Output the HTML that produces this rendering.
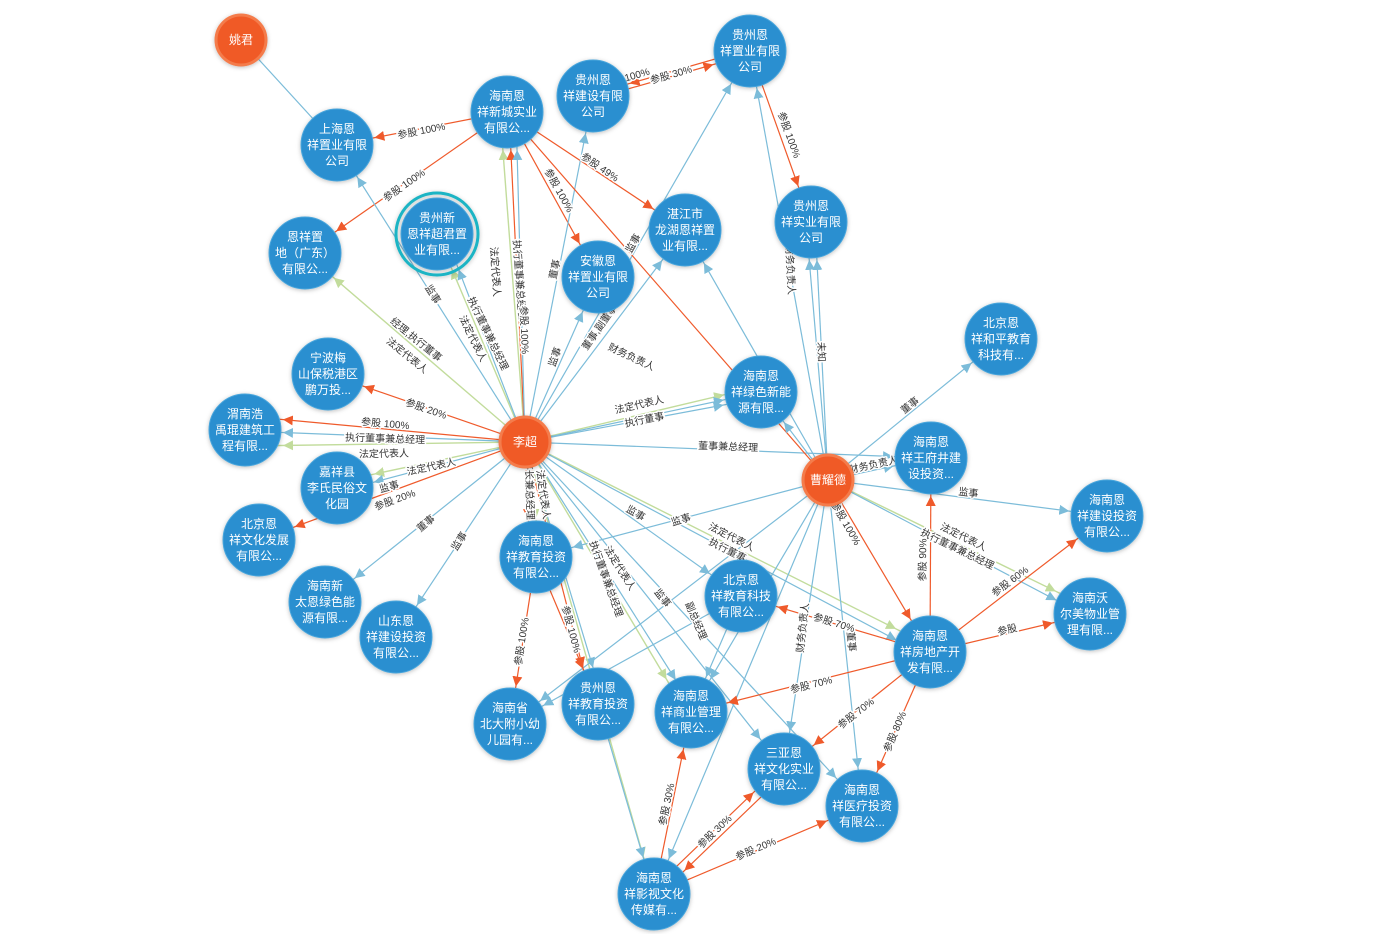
<!DOCTYPE html>
<html><head><meta charset="utf-8"><style>
html,body{margin:0;padding:0;background:#fff}
svg{display:block}
.n text{font-family:"Liberation Sans","Noto Sans CJK SC",sans-serif;font-size:12px;fill:#fff;text-anchor:middle}
.l{font-family:"Liberation Sans","Noto Sans CJK SC",sans-serif;font-size:10px;fill:#333;stroke:#fff;stroke-width:3px;paint-order:stroke;stroke-linejoin:round}
.b{stroke:#7cbcd9;stroke-width:1.2;fill:none}
.r{stroke:#ef5a2b;stroke-width:1.2;fill:none}
.g{stroke:#c2dc9c;stroke-width:1.4;fill:none}
.bn{fill:#2a8fd0;stroke:#4aa6dc;stroke-width:1}
.on{fill:#f05a28;stroke:#f47c4c;stroke-width:3}
</style></head><body>
<svg width="1380" height="934" viewBox="0 0 1380 934" xmlns="http://www.w3.org/2000/svg">
<defs>
<filter id="sh" x="-30%" y="-30%" width="160%" height="160%"><feDropShadow dx="0" dy="1" stdDeviation="2" flood-color="#000" flood-opacity="0.25"/></filter>
<marker id="mb" markerUnits="userSpaceOnUse" markerWidth="60" markerHeight="12" viewBox="0 0 60 12" refX="48" refY="6" orient="auto"><path d="M0,1 L10,6 L0,11 z" fill="#7cbcd9"/></marker>
<marker id="mbs" markerUnits="userSpaceOnUse" markerWidth="60" markerHeight="12" viewBox="0 0 60 12" refX="37" refY="6" orient="auto"><path d="M0,1 L10,6 L0,11 z" fill="#7cbcd9"/></marker>
<marker id="mr" markerUnits="userSpaceOnUse" markerWidth="60" markerHeight="12" viewBox="0 0 60 12" refX="48" refY="6" orient="auto"><path d="M0,1 L10,6 L0,11 z" fill="#ef5a2b"/></marker>
<marker id="mg" markerUnits="userSpaceOnUse" markerWidth="60" markerHeight="12" viewBox="0 0 60 12" refX="48" refY="6" orient="auto"><path d="M0,1 L10,6 L0,11 z" fill="#c2dc9c"/></marker>
</defs>

<!-- edges -->
<g>
<line class="b" x1="241" y1="40" x2="337" y2="145"/>
<!-- 海南新城 -->
<line class="r" x1="507" y1="112" x2="337" y2="145" marker-end="url(#mr)"/>
<line class="r" x1="507" y1="112" x2="305" y2="253" marker-end="url(#mr)"/>
<line class="r" x1="750" y1="49" x2="593" y2="94" marker-end="url(#mr)"/>
<line class="r" x1="593" y1="99" x2="750" y2="54" marker-end="url(#mr)"/>
<line class="r" x1="750" y1="51" x2="811" y2="222" marker-end="url(#mr)"/>
<line class="r" x1="507" y1="112" x2="685" y2="230" marker-end="url(#mr)"/>
<line class="r" x1="507" y1="112" x2="598" y2="277" marker-end="url(#mr)"/>
<!-- 李超 -->
<line class="g" x1="525" y1="442" x2="500" y2="112" marker-end="url(#mg)"/>
<line class="r" x1="525" y1="442" x2="509" y2="112" marker-end="url(#mr)"/>
<line class="b" x1="525" y1="442" x2="516" y2="112" marker-end="url(#mb)"/>
<line class="b" x1="525" y1="442" x2="337" y2="145" marker-end="url(#mb)"/>
<line class="g" x1="525" y1="442" x2="305" y2="253" marker-end="url(#mg)"/>
<line class="g" x1="525" y1="442" x2="437" y2="234" marker-end="url(#mg)"/>
<line class="b" x1="525" y1="442" x2="445" y2="234" marker-end="url(#mb)"/>
<line class="r" x1="525" y1="442" x2="328" y2="374" marker-end="url(#mr)"/>
<line class="r" x1="525" y1="442" x2="245" y2="416" marker-end="url(#mr)"/>
<line class="b" x1="525" y1="442" x2="245" y2="431" marker-end="url(#mb)"/>
<line class="g" x1="525" y1="442" x2="245" y2="446" marker-end="url(#mg)"/>
<line class="g" x1="525" y1="442" x2="337" y2="482" marker-end="url(#mg)"/>
<line class="b" x1="525" y1="442" x2="337" y2="492" marker-end="url(#mb)"/>
<line class="r" x1="525" y1="442" x2="259" y2="540" marker-end="url(#mr)"/>
<line class="b" x1="525" y1="442" x2="325" y2="602" marker-end="url(#mb)"/>
<line class="b" x1="525" y1="442" x2="396" y2="637" marker-end="url(#mb)"/>
<line class="b" x1="525" y1="442" x2="593" y2="96" marker-end="url(#mb)"/>
<line class="b" x1="525" y1="442" x2="598" y2="277" marker-end="url(#mb)"/>
<line class="b" x1="525" y1="442" x2="750" y2="51" marker-end="url(#mb)"/>
<line class="b" x1="525" y1="442" x2="685" y2="230" marker-end="url(#mb)"/>
<line class="g" x1="525" y1="442" x2="761" y2="386" marker-end="url(#mg)"/>
<line class="b" x1="525" y1="442" x2="761" y2="398" marker-end="url(#mb)"/>
<line class="b" x1="525" y1="442" x2="931" y2="458" marker-end="url(#mb)"/>
<line class="r" x1="525" y1="442" x2="530" y2="557" marker-end="url(#mr)"/>
<line class="g" x1="525" y1="442" x2="541" y2="557" marker-end="url(#mg)"/>
<line class="r" x1="525" y1="442" x2="592" y2="704" marker-end="url(#mr)"/>
<line class="b" x1="525" y1="442" x2="604" y2="704" marker-end="url(#mb)"/>
<line class="g" x1="525" y1="442" x2="686" y2="712" marker-end="url(#mg)"/>
<line class="b" x1="525" y1="442" x2="696" y2="712" marker-end="url(#mb)"/>
<line class="b" x1="525" y1="442" x2="741" y2="596" marker-end="url(#mb)"/>
<line class="b" x1="525" y1="442" x2="784" y2="769" marker-end="url(#mb)"/>
<line class="b" x1="525" y1="442" x2="862" y2="806" marker-end="url(#mb)"/>
<line class="g" x1="525" y1="442" x2="930" y2="646" marker-end="url(#mg)"/>
<line class="b" x1="525" y1="442" x2="930" y2="658" marker-end="url(#mb)"/>
<line class="b" x1="525" y1="442" x2="761" y2="392" marker-end="url(#mb)"/>
<line class="g" x1="525" y1="442" x2="654" y2="894" marker-end="url(#mg)"/>
<!-- 曹耀德 -->
<line class="b" x1="828" y1="480" x2="750" y2="51" marker-end="url(#mb)"/>
<line class="b" x1="828" y1="480" x2="815" y2="222" marker-end="url(#mb)"/>
<line class="b" x1="828" y1="480" x2="806" y2="222" marker-end="url(#mb)"/>
<line class="b" x1="828" y1="480" x2="1001" y2="339" marker-end="url(#mb)"/>
<line class="b" x1="828" y1="480" x2="931" y2="458" marker-end="url(#mb)"/>
<line class="b" x1="828" y1="480" x2="1107" y2="516" marker-end="url(#mb)"/>
<line class="g" x1="828" y1="480" x2="1090" y2="608" marker-end="url(#mg)"/>
<line class="b" x1="828" y1="480" x2="1090" y2="618" marker-end="url(#mb)"/>
<line class="r" x1="828" y1="480" x2="930" y2="652" marker-end="url(#mr)"/>
<line class="b" x1="828" y1="480" x2="510" y2="724" marker-end="url(#mb)"/>
<line class="r" x1="828" y1="480" x2="507" y2="112"/>
<line class="b" x1="828" y1="480" x2="784" y2="769" marker-end="url(#mb)"/>
<line class="b" x1="828" y1="480" x2="862" y2="806" marker-end="url(#mb)"/>
<line class="b" x1="828" y1="480" x2="685" y2="230" marker-end="url(#mb)"/>
<line class="b" x1="828" y1="480" x2="536" y2="557" marker-end="url(#mb)"/>
<line class="b" x1="828" y1="480" x2="761" y2="392" marker-end="url(#mb)"/>
<line class="b" x1="828" y1="480" x2="691" y2="712" marker-end="url(#mb)"/>
<line class="b" x1="828" y1="480" x2="654" y2="894" marker-end="url(#mb)"/>
<!-- 房地产 -->
<line class="r" x1="930" y1="652" x2="931" y2="458" marker-end="url(#mr)"/>
<line class="r" x1="930" y1="652" x2="1107" y2="516" marker-end="url(#mr)"/>
<line class="r" x1="930" y1="652" x2="1090" y2="614" marker-end="url(#mr)"/>
<line class="r" x1="930" y1="652" x2="741" y2="596" marker-end="url(#mr)"/>
<line class="r" x1="930" y1="652" x2="691" y2="712" marker-end="url(#mr)"/>
<line class="r" x1="930" y1="652" x2="784" y2="769" marker-end="url(#mr)"/>
<line class="r" x1="930" y1="652" x2="862" y2="806" marker-end="url(#mr)"/>
<line class="r" x1="654" y1="894" x2="691" y2="712" marker-end="url(#mr)"/>
<line class="r" x1="651" y1="891" x2="781" y2="766" marker-end="url(#mr)"/>
<line class="r" x1="787" y1="772" x2="657" y2="897" marker-end="url(#mr)"/>
<line class="r" x1="654" y1="894" x2="862" y2="806" marker-end="url(#mr)"/>
<line class="r" x1="536" y1="557" x2="510" y2="724" marker-end="url(#mr)"/>
<line class="r" x1="536" y1="557" x2="598" y2="704" marker-end="url(#mr)"/>
<line class="b" x1="741" y1="596" x2="510" y2="724" marker-end="url(#mb)"/>
<line class="b" x1="741" y1="596" x2="691" y2="712" marker-end="url(#mb)"/>
<line class="b" x1="598" y1="704" x2="654" y2="894" marker-end="url(#mb)"/>
</g>

<!-- labels -->
<g class="l">
<text x="422" y="134" transform="rotate(-11 422 134)" text-anchor="middle">参股 100%</text>
<text x="406" y="188" transform="rotate(-35 406 188)" text-anchor="middle">参股 100%</text>
<text x="638" y="78" transform="rotate(-16 638 78)" text-anchor="middle">100%</text>
<text x="672" y="78" transform="rotate(-16 672 78)" text-anchor="middle">参股 30%</text>
<text x="786" y="136" transform="rotate(70 786 136)" text-anchor="middle">参股 100%</text>
<text x="598" y="170" transform="rotate(34 598 170)" text-anchor="middle">参股 49%</text>
<text x="556" y="192" transform="rotate(61 556 192)" text-anchor="middle">参股 100%</text>
<text x="492" y="272" transform="rotate(86 492 272)" text-anchor="middle">法定代表人</text>
<text x="516" y="280" transform="rotate(86 516 280)" text-anchor="middle">执行董事兼总经理</text>
<text x="521" y="330" transform="rotate(88 521 330)" text-anchor="middle">参股 100%</text>
<text x="430" y="296" transform="rotate(58 430 296)" text-anchor="middle">监事</text>
<text x="414" y="342" transform="rotate(39 414 342)" text-anchor="middle">经理,执行董事</text>
<text x="405" y="358" transform="rotate(39 405 358)" text-anchor="middle">法定代表人</text>
<text x="485" y="335" transform="rotate(64 485 335)" text-anchor="middle">执行董事兼总经理</text>
<text x="470" y="340" transform="rotate(64 470 340)" text-anchor="middle">法定代表人</text>
<text x="425" y="412" transform="rotate(19 425 412)" text-anchor="middle">参股 20%</text>
<text x="385" y="427" transform="rotate(5 385 427)" text-anchor="middle">参股 100%</text>
<text x="385" y="442" transform="rotate(2 385 442)" text-anchor="middle">执行董事兼总经理</text>
<text x="384" y="457" transform="rotate(-1 384 457)" text-anchor="middle">法定代表人</text>
<text x="432" y="470" transform="rotate(-12 432 470)" text-anchor="middle">法定代表人</text>
<text x="390" y="490" transform="rotate(-15 390 490)" text-anchor="middle">监事</text>
<text x="396" y="503" transform="rotate(-20 396 503)" text-anchor="middle">参股 20%</text>
<text x="428" y="526" transform="rotate(-40 428 526)" text-anchor="middle">董事</text>
<text x="462" y="543" transform="rotate(-57 462 543)" text-anchor="middle">监事</text>
<text x="558" y="270" transform="rotate(-78 558 270)" text-anchor="middle">董事</text>
<text x="558" y="358" transform="rotate(-70 558 358)" text-anchor="middle">监事</text>
<text x="636" y="245" transform="rotate(-60 636 245)" text-anchor="middle">监事</text>
<text x="605" y="325" transform="rotate(-55 605 325)" text-anchor="middle">董事,副董事长</text>
<text x="640" y="408" transform="rotate(-13 640 408)" text-anchor="middle">法定代表人</text>
<text x="645" y="423" transform="rotate(-11 645 423)" text-anchor="middle">执行董事</text>
<text x="630" y="360" transform="rotate(25 630 360)" text-anchor="middle">财务负责人</text>
<text x="728" y="450" transform="rotate(2 728 450)" text-anchor="middle">董事兼总经理</text>
<text x="526" y="485" transform="rotate(88 526 485)" text-anchor="middle">董事长兼总经理</text>
<text x="540" y="495" transform="rotate(82 540 495)" text-anchor="middle">法定代表人</text>
<text x="568" y="630" transform="rotate(75 568 630)" text-anchor="middle">参股 100%</text>
<text x="603" y="580" transform="rotate(70 603 580)" text-anchor="middle">执行董事兼总经理</text>
<text x="617" y="570" transform="rotate(58 617 570)" text-anchor="middle">法定代表人</text>
<text x="634" y="516" transform="rotate(30 634 516)" text-anchor="middle">监事</text>
<text x="660" y="600" transform="rotate(52 660 600)" text-anchor="middle">监事</text>
<text x="730" y="540" transform="rotate(27 730 540)" text-anchor="middle">法定代表人</text>
<text x="726" y="553" transform="rotate(27 726 553)" text-anchor="middle">执行董事</text>
<text x="787" y="270" transform="rotate(87 787 270)" text-anchor="middle">财务负责人</text>
<text x="818" y="352" transform="rotate(88 818 352)" text-anchor="middle">未知</text>
<text x="912" y="408" transform="rotate(-39 912 408)" text-anchor="middle">董事</text>
<text x="874" y="468" transform="rotate(-12 874 468)" text-anchor="middle">财务负责人</text>
<text x="968" y="496" transform="rotate(7 968 496)" text-anchor="middle">监事</text>
<text x="962" y="540" transform="rotate(26 962 540)" text-anchor="middle">法定代表人</text>
<text x="956" y="552" transform="rotate(26 956 552)" text-anchor="middle">执行董事兼总经理</text>
<text x="843" y="525" transform="rotate(60 843 525)" text-anchor="middle">参股 100%</text>
<text x="682" y="523" transform="rotate(-17 682 523)" text-anchor="middle">监事</text>
<text x="806" y="628" transform="rotate(-84 806 628)" text-anchor="middle">财务负责人</text>
<text x="848" y="642" transform="rotate(84 848 642)" text-anchor="middle">董事</text>
<text x="926" y="560" transform="rotate(-89 926 560)" text-anchor="middle">参股 90%</text>
<text x="1012" y="584" transform="rotate(-37 1012 584)" text-anchor="middle">参股 60%</text>
<text x="1008" y="633" transform="rotate(-13 1008 633)" text-anchor="middle">参股</text>
<text x="833" y="626" transform="rotate(17 833 626)" text-anchor="middle">参股 70%</text>
<text x="812" y="688" transform="rotate(-14 812 688)" text-anchor="middle">参股 70%</text>
<text x="858" y="716" transform="rotate(-38 858 716)" text-anchor="middle">参股 70%</text>
<text x="898" y="733" transform="rotate(-67 898 733)" text-anchor="middle">参股 80%</text>
<text x="670" y="805" transform="rotate(-78 670 805)" text-anchor="middle">参股 30%</text>
<text x="717" y="834" transform="rotate(-44 717 834)" text-anchor="middle">参股 30%</text>
<text x="757" y="852" transform="rotate(-23 757 852)" text-anchor="middle">参股 20%</text>
<text x="525" y="642" transform="rotate(-81 525 642)" text-anchor="middle">参股 100%</text>
<text x="693" y="622" transform="rotate(67 693 622)" text-anchor="middle">副总经理</text>
</g>

<!-- nodes -->
<g class="n" filter="url(#sh)">
<circle class="on" cx="241" cy="40" r="25"/>
<circle class="on" cx="525" cy="442" r="25"/>
<circle class="on" cx="828" cy="480" r="25"/>
<circle cx="437" cy="234" r="41" fill="none" stroke="#1ab4c4" stroke-width="3"/>
<circle class="bn" cx="337" cy="145" r="36"/>
<circle class="bn" cx="507" cy="112" r="36"/>
<circle class="bn" cx="593" cy="96" r="36"/>
<circle class="bn" cx="750" cy="51" r="36"/>
<circle class="bn" cx="811" cy="222" r="36"/>
<circle class="bn" cx="685" cy="230" r="36"/>
<circle class="bn" cx="598" cy="277" r="36"/>
<circle class="bn" cx="437" cy="234" r="36"/>
<circle class="bn" cx="305" cy="253" r="36"/>
<circle class="bn" cx="328" cy="374" r="36"/>
<circle class="bn" cx="245" cy="430" r="36"/>
<circle class="bn" cx="337" cy="488" r="36"/>
<circle class="bn" cx="259" cy="540" r="36"/>
<circle class="bn" cx="325" cy="602" r="36"/>
<circle class="bn" cx="396" cy="637" r="36"/>
<circle class="bn" cx="1001" cy="339" r="36"/>
<circle class="bn" cx="761" cy="392" r="36"/>
<circle class="bn" cx="931" cy="458" r="36"/>
<circle class="bn" cx="1107" cy="516" r="36"/>
<circle class="bn" cx="1090" cy="614" r="36"/>
<circle class="bn" cx="536" cy="557" r="36"/>
<circle class="bn" cx="741" cy="596" r="36"/>
<circle class="bn" cx="930" cy="652" r="36"/>
<circle class="bn" cx="510" cy="724" r="36"/>
<circle class="bn" cx="598" cy="704" r="36"/>
<circle class="bn" cx="691" cy="712" r="36"/>
<circle class="bn" cx="784" cy="769" r="36"/>
<circle class="bn" cx="862" cy="806" r="36"/>
<circle class="bn" cx="654" cy="894" r="36"/>
</g>
<g class="n">
<text x="241" y="44">姚君</text>
<text x="525" y="446">李超</text>
<text x="828" y="484">曹耀德</text>
<text x="337" y="133">上海恩<tspan x="337" dy="16">祥置业有限</tspan><tspan x="337" dy="16">公司</tspan></text>
<text x="507" y="100">海南恩<tspan x="507" dy="16">祥新城实业</tspan><tspan x="507" dy="16">有限公...</tspan></text>
<text x="593" y="84">贵州恩<tspan x="593" dy="16">祥建设有限</tspan><tspan x="593" dy="16">公司</tspan></text>
<text x="750" y="39">贵州恩<tspan x="750" dy="16">祥置业有限</tspan><tspan x="750" dy="16">公司</tspan></text>
<text x="811" y="210">贵州恩<tspan x="811" dy="16">祥实业有限</tspan><tspan x="811" dy="16">公司</tspan></text>
<text x="685" y="218">湛江市<tspan x="685" dy="16">龙湖恩祥置</tspan><tspan x="685" dy="16">业有限...</tspan></text>
<text x="598" y="265">安徽恩<tspan x="598" dy="16">祥置业有限</tspan><tspan x="598" dy="16">公司</tspan></text>
<text x="437" y="222">贵州新<tspan x="437" dy="16">恩祥超君置</tspan><tspan x="437" dy="16">业有限...</tspan></text>
<text x="305" y="241">恩祥置<tspan x="305" dy="16">地（广东）</tspan><tspan x="305" dy="16">有限公...</tspan></text>
<text x="328" y="362">宁波梅<tspan x="328" dy="16">山保税港区</tspan><tspan x="328" dy="16">鹏万投...</tspan></text>
<text x="245" y="418">渭南浩<tspan x="245" dy="16">禹琨建筑工</tspan><tspan x="245" dy="16">程有限...</tspan></text>
<text x="337" y="476">嘉祥县<tspan x="337" dy="16">李氏民俗文</tspan><tspan x="337" dy="16">化园</tspan></text>
<text x="259" y="528">北京恩<tspan x="259" dy="16">祥文化发展</tspan><tspan x="259" dy="16">有限公...</tspan></text>
<text x="325" y="590">海南新<tspan x="325" dy="16">太恩绿色能</tspan><tspan x="325" dy="16">源有限...</tspan></text>
<text x="396" y="625">山东恩<tspan x="396" dy="16">祥建设投资</tspan><tspan x="396" dy="16">有限公...</tspan></text>
<text x="1001" y="327">北京恩<tspan x="1001" dy="16">祥和平教育</tspan><tspan x="1001" dy="16">科技有...</tspan></text>
<text x="761" y="380">海南恩<tspan x="761" dy="16">祥绿色新能</tspan><tspan x="761" dy="16">源有限...</tspan></text>
<text x="931" y="446">海南恩<tspan x="931" dy="16">祥王府井建</tspan><tspan x="931" dy="16">设投资...</tspan></text>
<text x="1107" y="504">海南恩<tspan x="1107" dy="16">祥建设投资</tspan><tspan x="1107" dy="16">有限公...</tspan></text>
<text x="1090" y="602">海南沃<tspan x="1090" dy="16">尔美物业管</tspan><tspan x="1090" dy="16">理有限...</tspan></text>
<text x="536" y="545">海南恩<tspan x="536" dy="16">祥教育投资</tspan><tspan x="536" dy="16">有限公...</tspan></text>
<text x="741" y="584">北京恩<tspan x="741" dy="16">祥教育科技</tspan><tspan x="741" dy="16">有限公...</tspan></text>
<text x="930" y="640">海南恩<tspan x="930" dy="16">祥房地产开</tspan><tspan x="930" dy="16">发有限...</tspan></text>
<text x="510" y="712">海南省<tspan x="510" dy="16">北大附小幼</tspan><tspan x="510" dy="16">儿园有...</tspan></text>
<text x="598" y="692">贵州恩<tspan x="598" dy="16">祥教育投资</tspan><tspan x="598" dy="16">有限公...</tspan></text>
<text x="691" y="700">海南恩<tspan x="691" dy="16">祥商业管理</tspan><tspan x="691" dy="16">有限公...</tspan></text>
<text x="784" y="757">三亚恩<tspan x="784" dy="16">祥文化实业</tspan><tspan x="784" dy="16">有限公...</tspan></text>
<text x="862" y="794">海南恩<tspan x="862" dy="16">祥医疗投资</tspan><tspan x="862" dy="16">有限公...</tspan></text>
<text x="654" y="882">海南恩<tspan x="654" dy="16">祥影视文化</tspan><tspan x="654" dy="16">传媒有...</tspan></text>
</g>
</svg>
</body></html>
